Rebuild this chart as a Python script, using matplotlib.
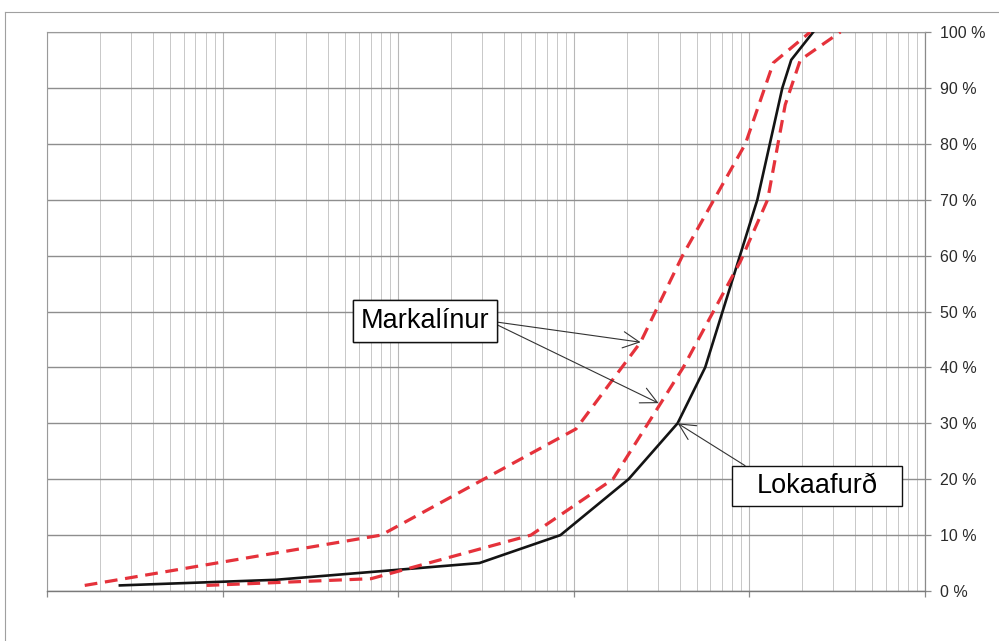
import numpy as np
import matplotlib
matplotlib.use("Agg")
import matplotlib.pyplot as plt
from matplotlib.path import Path
from matplotlib.lines import Line2D
from matplotlib.ticker import LogLocator, NullFormatter, FixedLocator

plt.rcParams["font.family"] = ["Liberation Sans", "DejaVu Sans"]

# Grain size (mm) and cumulative passing (%)
final_size = [0.0026, 0.020, 0.10, 0.29, 0.84, 2.05, 3.9, 5.6, 11.1, 15.4, 17.3, 23.1]
final_pass = [1.0, 2.0, 3.8, 5.0, 10.0, 20.0, 30.0, 40.0, 70.0, 90.0, 95.0, 100.0]

fine_limit_size = [0.00164, 0.080, 1.03, 2.40, 4.16, 9.49, 13.7, 22.2]
fine_limit_pass = [1.0, 10.0, 29.0, 44.5, 60.0, 80.0, 94.5, 100.0]

coarse_limit_size = [0.0081, 0.070, 0.57, 1.67, 4.2, 8.9, 12.7, 16.0, 19.5, 33.0]
coarse_limit_pass = [1.0, 2.2, 10.0, 20.0, 40.0, 59.0, 70.0, 87.0, 95.0, 100.0]

y_ticks = [0, 10, 20, 30, 40, 50, 60, 70, 80, 90, 100]
y_tick_labels = [f"{v} %" for v in y_ticks]

label_limits = "Markalínur"
label_final = "Lokaafurð"

fig = plt.figure(figsize=(9.99, 6.41), dpi=100)
ax = fig.add_axes([47 / 999, 1 - 591 / 641, (925 - 47) / 999, (591 - 32) / 641])

ax.set_xscale("log")
ax.set_xlim(0.001, 100)
ax.set_ylim(0, 100)

# grid
ax.xaxis.set_major_locator(LogLocator(base=10, numticks=12))
ax.xaxis.set_minor_locator(LogLocator(base=10, subs=np.arange(2, 10), numticks=12))
ax.xaxis.set_major_formatter(NullFormatter())
ax.xaxis.set_minor_formatter(NullFormatter())
ax.grid(which="major", axis="x", color="#b8b8b8", lw=0.8)
ax.grid(which="minor", axis="x", color="#c8c8c8", lw=0.7)
ax.yaxis.set_major_locator(FixedLocator(y_ticks))
ax.grid(which="major", axis="y", color="#8e8e8e", lw=1.0)
ax.set_axisbelow(True)

for side in ["top", "left"]:
    ax.spines[side].set_color("#9a9a9a")
    ax.spines[side].set_linewidth(0.8)
ax.spines["right"].set_color("#8a8a8a")
ax.spines["right"].set_linewidth(0.9)
ax.spines["bottom"].set_color("#7a7a7a")
ax.spines["bottom"].set_linewidth(1.0)

ax.yaxis.tick_right()
ax.set_yticklabels(y_tick_labels)
ax.tick_params(axis="y", which="major", direction="out", length=4, width=0.9,
               color="#8a8a8a", pad=7, labelsize=11.5, labelcolor="#2a2a2a")
ax.tick_params(axis="x", which="major", direction="out", length=4, width=0.9,
               color="#8a8a8a")
ax.tick_params(axis="x", which="minor", length=0)

# curves
ax.plot(final_size, final_pass, color="#141414", lw=1.9, solid_joinstyle="miter", zorder=3)
for sizes, passing in [(fine_limit_size, fine_limit_pass),
                       (coarse_limit_size, coarse_limit_pass)]:
    ln, = ax.plot(sizes, passing, color="#e5323b", lw=2.3, zorder=4)
    ln.set_dashes((4.0, 2.4))
    ln.set_dash_capstyle("butt")


def wide_box(x0, y0, width, height, mutation_size):
    padx = 0.9 * mutation_size
    pady = 0.25 * mutation_size
    x0, x1 = x0 - padx, x0 + width + padx
    y0, y1 = y0 - pady, y0 + height + pady
    return Path([(x0, y0), (x1, y0), (x1, y1), (x0, y1), (x0, y0)], closed=True)


arrow_kw = dict(arrowstyle="->,head_length=0.6,head_width=0.3", color="#333333",
                lw=0.8, shrinkA=0, shrinkB=0)

box_limits = dict(boxstyle="square,pad=0.28", fc="white", ec="#111111", lw=1.0)
ax.annotate(label_limits, xy=(fine_limit_size[3], fine_limit_pass[3]),
            xytext=(0.142, 48.3), textcoords="data", fontsize=19.5,
            ha="center", va="center", bbox=box_limits,
            arrowprops=dict(relpos=(1.0, 0.5), **arrow_kw), zorder=6)
ax.annotate(label_limits, xy=(3.04, 33.6),
            xytext=(0.142, 48.3), textcoords="data", fontsize=19.5,
            ha="center", va="center", bbox=box_limits,
            arrowprops=dict(relpos=(1.0, 0.5), **arrow_kw), zorder=6)

box_final = dict(boxstyle=wide_box, fc="white", ec="#111111", lw=1.0)
ax.annotate(label_final, xy=(final_size[6], final_pass[6]),
            xytext=(24.3, 18.8), textcoords="data", fontsize=19.5,
            ha="center", va="center", bbox=box_final,
            arrowprops=dict(relpos=(0.0, 1.0), **arrow_kw), zorder=6)

# outer chart frame
fig.add_artist(Line2D([5 / 999, 5 / 999], [1 - 12 / 641, 1 - 640 / 641],
                      transform=fig.transFigure, color="#a0a0a0", lw=0.8))
fig.add_artist(Line2D([5 / 999, 1.0], [1 - 12 / 641, 1 - 12 / 641],
                      transform=fig.transFigure, color="#a0a0a0", lw=0.8))

fig.savefig("out.png", dpi=100)
